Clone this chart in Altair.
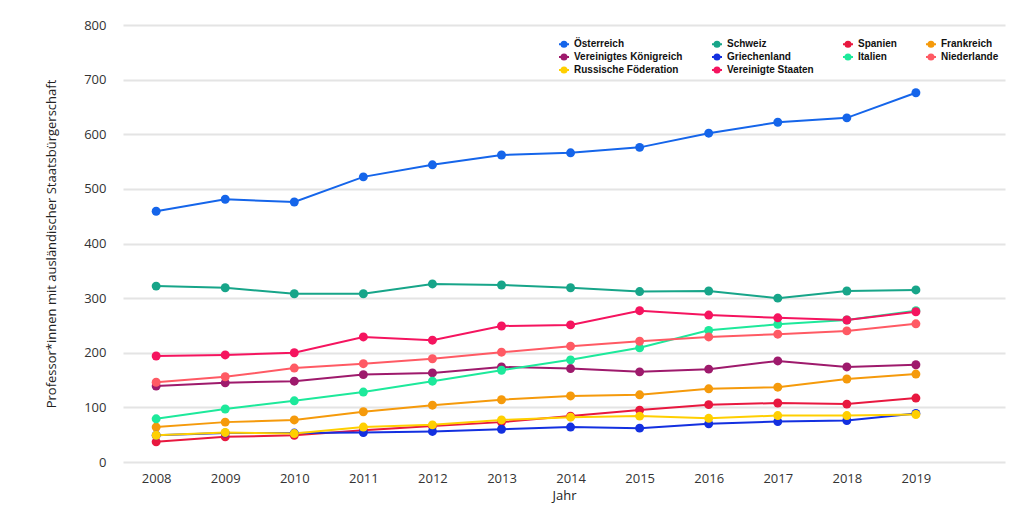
import altair as alt
import pandas as pd

years = list(range(2008, 2020))

countries = [
    "Österreich", "Schweiz", "Spanien", "Frankreich",
    "Vereinigtes Königreich", "Griechenland", "Italien", "Niederlande",
    "Russische Föderation", "Vereinigte Staaten",
]
colors = [
    "#1565ea", "#17a589", "#e8183f", "#f59a0b",
    "#9e1a6c", "#1330e0", "#1de99b", "#ff5a64",
    "#ffcf00", "#f5145f",
]

oesterreich = [459, 481, 476, 522, 544, 562, 566, 576, 602, 622, 630, 676]
schweiz = [322, 319, 308, 308, 326, 324, 319, 312, 313, 300, 313, 315]
spanien = [37, 46, 49, 58, 66, 73, 84, 95, 105, 108, 106, 117]
frankreich = [64, 73, 77, 92, 104, 114, 121, 123, 134, 137, 152, 161]
vk = [139, 145, 148, 160, 163, 174, 171, 165, 170, 185, 174, 178]
griechenland = [49, 53, 53, 54, 56, 60, 64, 62, 70, 74, 76, 89]
italien = [79, 97, 112, 128, 148, 168, 187, 209, 241, 252, 260, 277]
niederlande = [146, 156, 172, 180, 189, 201, 212, 221, 229, 234, 240, 253]
russland = [49, 54, 52, 64, 68, 77, 82, 84, 80, 85, 85, 87]
usa = [194, 196, 200, 229, 223, 249, 251, 277, 269, 264, 260, 275]

series = [oesterreich, schweiz, spanien, frankreich, vk, griechenland,
          italien, niederlande, russland, usa]

rows = []
for name, vals in zip(countries, series):
    for y, v in zip(years, vals):
        rows.append({"Jahr": y, "Land": name, "Wert": v})
df = pd.DataFrame(rows)

font = "Open Sans"

color = alt.Color(
    "Land:N",
    sort=countries,
    scale=alt.Scale(domain=countries, range=colors),
    legend=alt.Legend(
        title=None,
        orient="none",
        legendX=435,
        legendY=13,
        columns=4,
        direction="horizontal",
        values=countries,
        columnPadding=25,
        rowPadding=-6,
        labelFont="Liberation Sans",
        labelFontWeight="bold",
        labelFontSize=10,
        labelColor="#111111",
        labelLimit=200,
        symbolType="M-1,0H1M0.5,0A0.5,0.5,0,1,1,-0.5,0A0.5,0.5,0,1,1,0.5,0Z",
        symbolSize=100,
        symbolStrokeWidth=2,
        symbolOffset=0,
        labelOffset=4,
    ),
)

x = alt.X(
    "Jahr:Q",
    scale=alt.Scale(domain=[2007.52, 2020.29], nice=False, zero=False),
    axis=alt.Axis(
        values=years, format="d", title="Jahr", grid=False, domain=False,
        ticks=False, labelFont=font, labelFontSize=13, labelColor="#333333",
        labelPadding=10, titleFont=font, titleFontSize=13, titleFontWeight="normal",
        titleColor="#222222", titlePadding=4,
    ),
)
y = alt.Y(
    "Wert:Q",
    scale=alt.Scale(domain=[0, 800], nice=False),
    axis=alt.Axis(
        values=[0, 100, 200, 300, 400, 500, 600, 700, 800],
        title="Professor*innen mit ausländischer Staatsbürgerschaft",
        domain=False, ticks=False, gridColor="#e4e4e4", gridWidth=2,
        labelFont=font, labelFontSize=13, labelColor="#333333", labelPadding=17,
        titleFont=font, titleFontSize=13, titleFontWeight="normal",
        titleColor="#222222", titlePadding=25,
    ),
)

base = alt.Chart(df).encode(x=x, y=y, color=color)
lines = base.mark_line(strokeWidth=2)
points = base.mark_circle(size=80, opacity=1)

chart = alt.layer(lines, points).properties(
    width=882,
    height=437,
    autosize=alt.AutoSizeParams(type="none"),
    padding={"left": 115, "top": 17, "right": 5, "bottom": 42},
    background="white",
).configure_view(stroke=None)

chart.save("out.html", embed_options={"renderer": "svg", "actions": False})
